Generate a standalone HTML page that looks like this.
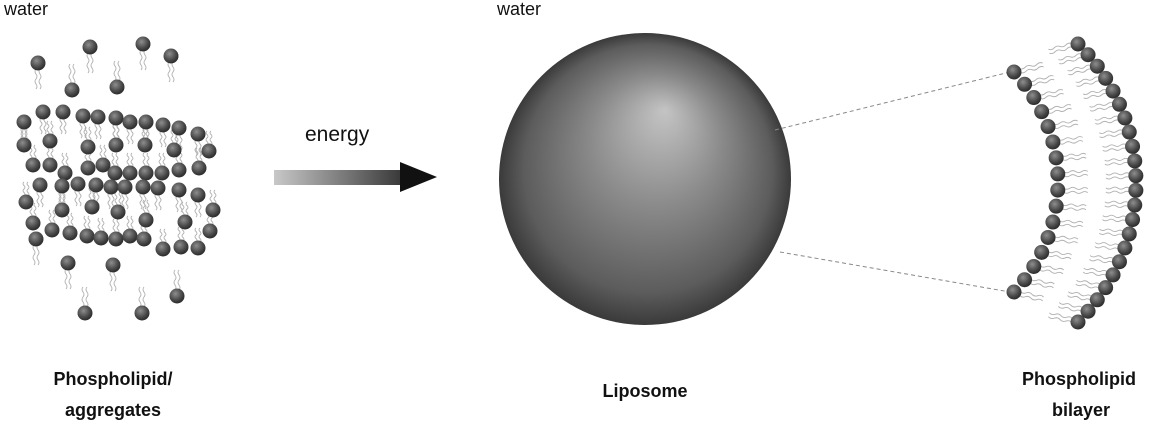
<!DOCTYPE html>
<html><head><meta charset="utf-8"><style>
html,body{margin:0;padding:0;background:#fff;width:1162px;height:430px;overflow:hidden}
svg{display:block}
text{font-family:"Liberation Sans",sans-serif;fill:#111}
</style></head><body>
<svg id="s" width="1162" height="430" viewBox="0 0 1162 430" xmlns="http://www.w3.org/2000/svg">
<defs>
<radialGradient id="head" cx="0.4" cy="0.35" r="0.7">
<stop offset="0" stop-color="#8e8e8e"/><stop offset="0.6" stop-color="#4a4a4a"/><stop offset="1" stop-color="#252525"/>
</radialGradient>
<radialGradient id="sph" cx="645" cy="179" r="146" fx="665" fy="110" gradientUnits="userSpaceOnUse">
<stop offset="0" stop-color="#c4c4c4"/><stop offset="0.45" stop-color="#8a8a8a"/><stop offset="0.85" stop-color="#5c5c5c"/><stop offset="1" stop-color="#3a3a3a"/>
</radialGradient>
<linearGradient id="arr" x1="274" y1="0" x2="437" y2="0" gradientUnits="userSpaceOnUse">
<stop offset="0" stop-color="#c8c8c8"/><stop offset="1" stop-color="#111"/>
</linearGradient>
</defs>
<text x="4" y="15" font-size="18">water</text>
<text x="497" y="15" font-size="18">water</text>
<text x="305" y="141" font-size="21">energy</text>
<rect x="274" y="170" width="128" height="15" fill="url(#arr)"/>
<polygon points="400,162 437,177 400,192" fill="#111"/>
<circle cx="645" cy="179" r="146" fill="url(#sph)"/>
<line x1="775" y1="130" x2="1010" y2="72" stroke="#888" stroke-dasharray="4,3"/>
<line x1="780" y1="252" x2="1010" y2="292" stroke="#888" stroke-dasharray="4,3"/>
<g id="g"></g>
<text x="113" y="385" font-size="18" font-weight="bold" text-anchor="middle">Phospholipid/</text>
<text x="113" y="416" font-size="18" font-weight="bold" text-anchor="middle">aggregates</text>
<text x="645" y="397" font-size="18" font-weight="bold" text-anchor="middle">Liposome</text>
<text x="1079" y="385" font-size="18" font-weight="bold" text-anchor="middle">Phospholipid</text>
<text x="1081" y="416" font-size="18" font-weight="bold" text-anchor="middle">bilayer</text>
</svg>
<script>
var g=document.getElementById('g');
function tail(x,y,dx,dy,len){
 var nx=-dy,ny=dx,s='';
 for(var k=-1;k<=1;k+=2){
  var ox=x+nx*2*k,oy=y+ny*2*k,p='M'+ox+','+oy;
  for(var i=1;i<=4;i++){var t=len*i/4,w=(i%2?2:-2);
   p+=' Q'+(ox+dx*(t-len/8)+nx*w)+','+(oy+dy*(t-len/8)+ny*w)+' '+(ox+dx*t)+','+(oy+dy*t);}
  s+='<path d="'+p+'" fill="none" stroke="#b0b0b0" stroke-width="0.9"/>';
 }
 return s;}
function head(x,y){return '<circle cx="'+x+'" cy="'+y+'" r="7.5" fill="url(#head)"/>';}
var tails='',heads='';
function lip(x,y,dx,dy,len){tails+=tail(x+dx*6,y+dy*6,dx,dy,len||20);heads+=head(x,y);}
[[38,63,0,1],[90,47,0,1],[143,44,0,1],[171,56,0,1]].forEach(a=>lip(a[0],a[1],a[2],a[3]));
[[72,90,0,-1],[117,87,0,-1]].forEach(a=>lip(a[0],a[1],a[2],a[3]));
var r1=[[24,122],[43,112],[63,112],[83,116],[98,117],[116,118],[130,122],[146,122],[163,125],[179,128],[198,134]];
r1.forEach(a=>lip(a[0],a[1],0,1,16));
var r2=[[24,145],[50,141],[88,147],[116,145],[145,145],[174,150],[209,151]];
r2.forEach(a=>lip(a[0],a[1],0,-1,14));
var r3=[[33,165],[50,165],[65,173],[88,168],[103,165],[115,173],[130,173],[146,173],[162,173],[179,170],[199,168]];
r3.forEach(a=>lip(a[0],a[1],0,-1,14));
var r4=[[40,185],[62,186],[78,184],[96,185],[111,187],[125,187],[143,187],[158,188],[179,190],[198,195]];
r4.forEach(a=>lip(a[0],a[1],0,1,16));
var r5=[[26,202],[62,210],[92,207],[118,212],[146,220],[185,222],[213,210]];
r5.forEach(a=>lip(a[0],a[1],0,-1,14));
var r6=[[33,223],[52,230],[70,233],[87,236],[101,238],[116,239],[130,236],[144,239],[163,249],[181,247],[198,248],[210,231]];
r6.forEach(a=>lip(a[0],a[1],0,-1,14));
[[36,239,0,1],[68,263,0,1],[113,265,0,1]].forEach(a=>lip(a[0],a[1],a[2],a[3]));
[[85,313,0,-1],[142,313,0,-1],[177,296,0,-1]].forEach(a=>lip(a[0],a[1],a[2],a[3]));
function arc(y0,y1,xe,xm,n,dir,len){
 var cy=(y0+y1)/2,h=(y1-y0)/2,b=xm-xe;
 var R=(h*h+b*b)/(2*b),cx=xm-R,a0=Math.asin(h/R);
 for(var i=0;i<n;i++){var a=-a0+2*a0*i/(n-1);
  var x=cx+R*Math.cos(a),y=cy+R*Math.sin(a);
  var dx=-dir,dy=-Math.sin(a)*0.35*dir,m=Math.hypot(dx,dy);
  lip(x,y,dx/m,dy/m,len);}
}
arc(44,322,1078,1136,22,1,24);
arc(72,292,1014,1058,16,-1,24);
g.innerHTML=tails+heads;
</script>
</body></html>
